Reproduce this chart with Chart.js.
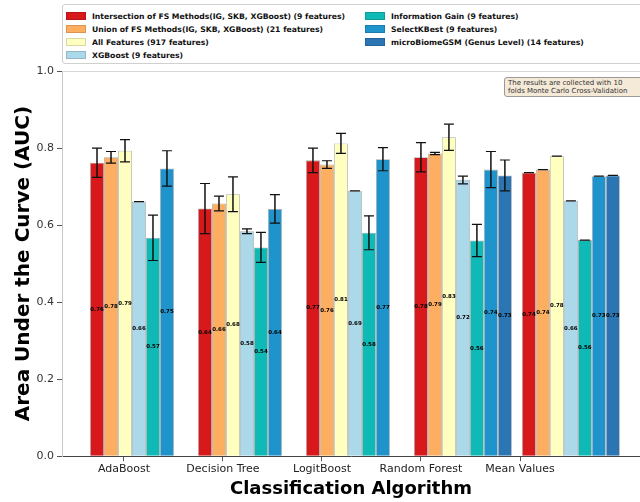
<!DOCTYPE html>
<html>
<head>
<meta charset="utf-8">
<script src="https://cdn.jsdelivr.net/npm/chart.js@4.4.0/dist/chart.umd.min.js"></script>
<style>
    html, body { margin: 0; padding: 0; background: #fff; overflow: hidden; }
    #wrap { position: relative; width: 640px; height: 502px; }
    #legend {
        position: absolute; left: 62px; top: 4px; width: 600px; height: 58px;
        border: 1px solid #d0d0d0; border-radius: 3px; background: #fff;
        font: bold 7.7px "DejaVu Sans"; color: #111;
    }
    .item { position: absolute; height: 13px; line-height: 13px; white-space: nowrap; }
    .swatch {
        display: inline-block; width: 20px; height: 8px; vertical-align: middle;
        margin-right: 6px; box-sizing: border-box; border: 1px solid rgba(0, 0, 0, 0.15);
    }
    #note {
        position: absolute; left: 504px; top: 77px; width: 150px;
        padding: 1px 3px; line-height: 9px; font: 7px "DejaVu Sans"; color: #333;
        background: #f5e9d8; border: 1px solid #9a9a9a; border-radius: 3px;
    }
</style>
</head>
<body>
<div id="wrap">
    <canvas id="aucChart" width="640" height="502"></canvas>
    <div id="legend"></div>
    <div id="note">The results are collected with 10<br>folds Monte Carlo Cross-Validation</div>
</div>
<script>
const categories = ["AdaBoost", "Decision Tree", "LogitBoost", "Random Forest", "Mean Values"];
const seriesNames = [
    "Intersection of FS Methods(IG, SKB, XGBoost) (9 features)",
    "Union of FS Methods(IG, SKB, XGBoost) (21 features)",
    "All Features (917 features)",
    "XGBoost (9 features)",
    "Information Gain (9 features)",
    "SelectKBest (9 features)",
    "microBiomeGSM (Genus Level) (14 features)",
];
const seriesColors = ["#d7191c", "#fdae61", "#ffffbf", "#abd9e9", "#0fb9b6", "#1f93cc", "#2c75b3"];

// mean AUC per algorithm
const intersection = [0.762, 0.643, 0.768, 0.776, 0.736];
const union = [0.776, 0.656, 0.757, 0.786, 0.744];
const allFeatures = [0.793, 0.680, 0.812, 0.828, 0.779];
const xgboost = [0.661, 0.584, 0.689, 0.717, 0.663];
const infoGain = [0.567, 0.542, 0.580, 0.560, 0.561];
const selectKBest = [0.747, 0.642, 0.771, 0.744, 0.727];
const microBiome = [null, null, null, 0.729, 0.729];

// std over the 10 folds
const intersectionErr = [0.038, 0.065, 0.032, 0.038, 0];
const unionErr = [0.015, 0.019, 0.010, 0.003, 0];
const allFeaturesErr = [0.029, 0.045, 0.026, 0.034, 0];
const xgboostErr = [0, 0.006, 0, 0.010, 0];
const infoGainErr = [0.059, 0.039, 0.044, 0.042, 0];
const selectKBestErr = [0.046, 0.037, 0.030, 0.047, 0];
const microBiomeErr = [null, null, null, 0.040, 0];

const yTicks = [0, 0.2, 0.4, 0.6, 0.8, 1.0];

const seriesValues = [intersection, union, allFeatures, xgboost, infoGain, selectKBest, microBiome];
const seriesErrors = [intersectionErr, unionErr, allFeaturesErr, xgboostErr, infoGainErr, selectKBestErr, microBiomeErr];

const errorBars = {
    id: "errorBars",
    afterDatasetsDraw(chart) {
        const ctx = chart.ctx;
        const yScale = chart.scales.y;
        ctx.save();
        chart.data.datasets.forEach((ds, i) => {
            const meta = chart.getDatasetMeta(i);
            meta.data.forEach((bar, j) => {
                const v = seriesValues[i][j];
                if (v == null) return;
                // value label in the middle of the bar
                ctx.fillStyle = "#000";
                ctx.font = "bold 5.5px 'DejaVu Sans'";
                ctx.textAlign = "center";
                ctx.textBaseline = "middle";
                ctx.fillText(v.toFixed(2), bar.x, (bar.y + bar.base) / 2);

                const e = seriesErrors[i][j];
                if (e == null) return;
                const top = yScale.getPixelForValue(v + e);
                const bot = yScale.getPixelForValue(v - e);
                ctx.strokeStyle = "#111";
                ctx.lineWidth = 1.5;
                ctx.beginPath();
                ctx.moveTo(bar.x, top);
                ctx.lineTo(bar.x, bot);
                ctx.stroke();
                ctx.lineWidth = 1.2;
                ctx.beginPath();
                ctx.moveTo(bar.x - 5, top);
                ctx.lineTo(bar.x + 5, top);
                ctx.moveTo(bar.x - 5, bot);
                ctx.lineTo(bar.x + 5, bot);
                ctx.stroke();
            });
        });
        // light frame on top of the plot
        const area = chart.chartArea;
        ctx.strokeStyle = "#d8d8d8";
        ctx.lineWidth = 1;
        ctx.beginPath();
        ctx.moveTo(area.left, area.top + 0.5);
        ctx.lineTo(area.right, area.top + 0.5);
        ctx.stroke();
        ctx.restore();
    },
};

const catTicks = (scale) => {
    scale.ticks = categories.map((c, i) => ({ value: i }));
};

const ctx = document.getElementById("aucChart").getContext("2d");
const myChart = new Chart(ctx, {
    type: "bar",
    data: {
        datasets: seriesNames.map((name, i) => ({
            label: name,
            data: seriesValues[i].map((v, j) => ({ x: j, y: v })),
            backgroundColor: seriesColors[i],
            borderColor: "rgba(90, 90, 90, 0.5)",
            borderWidth: 0.8,
            categoryPercentage: 0.907,
            barPercentage: 1,
        })),
    },
    options: {
        responsive: false,
        animation: false,
        layout: { padding: { top: 71, left: 0, right: 0, bottom: 0 } },
        plugins: {
            legend: { display: false },
            tooltip: { enabled: false },
        },
        scales: {
            x: {
                type: "linear",
                display: false,
                offset: false,
                grid: { offset: false },
                min: -0.713,
                max: 4.64,
                afterBuildTicks: catTicks,
            },
            x2: {
                type: "linear",
                position: "bottom",
                offset: false,
                min: -0.626,
                max: 5.212,
                afterBuildTicks: catTicks,
                grid: { offset: false, drawOnChartArea: false, tickLength: 5, color: "#555" },
                border: { color: "#444" },
                ticks: {
                    padding: 1,
                    maxRotation: 0,
                    autoSkip: false,
                    color: "#222",
                    font: { family: "DejaVu Sans", size: 11 },
                    callback: (v) => categories[v] ?? "",
                },
                title: {
                    display: true,
                    text: "Classification Algorithm",
                    color: "#000",
                    font: { family: "DejaVu Sans", size: 18, weight: "bold" },
                    padding: { top: 2, bottom: 2 },
                },
            },
            y: {
                min: 0,
                max: 1,
                afterBuildTicks: (scale) => {
                    scale.ticks = yTicks.map((v) => ({ value: v }));
                },
                afterFit: (scale) => {
                    scale.width = 62;
                },
                grid: { drawOnChartArea: false, tickLength: 5, color: "#555" },
                border: { color: "#c8c8c8" },
                ticks: {
                    padding: 3,
                    color: "#333",
                    font: { family: "DejaVu Sans", size: 11 },
                    callback: (v) => v.toFixed(1),
                },
                title: {
                    display: true,
                    text: "Area Under the Curve (AUC)",
                    color: "#000",
                    font: { family: "DejaVu Sans", size: 20, weight: "bold" },
                    padding: { top: 12, bottom: 0 },
                },
            },
        },
    },
    plugins: [errorBars],
});

// two column legend, filled column by column
const legend = document.getElementById("legend");
seriesNames.forEach((name, i) => {
    const col = i < 4 ? 0 : 1;
    const row = i < 4 ? i : i - 4;
    const item = document.createElement("div");
    item.className = "item";
    item.style.left = (col ? 302 : 3) + "px";
    item.style.top = (4.5 + row * 13) + "px";
    item.innerHTML = `<span class="swatch" style="background:${seriesColors[i]}"></span>${name}`;
    legend.appendChild(item);
});
</script>
</body>
</html>
